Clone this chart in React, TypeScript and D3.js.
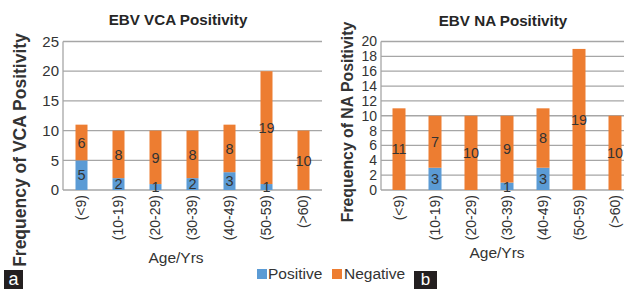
import React from 'react';
import * as d3 from 'd3';

const ageGroups = ['(<9)', '(10-19)', '(20-29)', '(30-39)', '(40-49)', '(50-59)', '(>60)'];
const vcaPositive = [5, 2, 1, 2, 3, 1, 0];
const vcaNegative = [6, 8, 9, 8, 8, 19, 10];
const naPositive = [0, 3, 0, 1, 3, 0, 0];
const naNegative = [11, 7, 10, 9, 8, 19, 10];
const vcaTicks = [0, 5, 10, 15, 20, 25];
const naTicks = [0, 2, 4, 6, 8, 10, 12, 14, 16, 18, 20];

const BLUE = '#5b9bd5';
const ORANGE = '#ed7d31';
const GRID = '#a6a6a6';
const FONT = 'Liberation Sans, Arial, sans-serif';

type PanelProps = {
  title: string;
  yTitle: string;
  pos: number[];
  neg: number[];
  ticks: number[];
  left: number;
  right: number;
  barW: number;
  tickSize: number;
  titleX: number;
  titleY: number;
  yTitleX: number;
  yTitleY: number;
  yTitleSize: number;
  xTitleX: number;
  xTitleY: number;
};

const Panel = (p: PanelProps) => {
  const top = 41.5;
  const bottom = 190;
  const x = d3.scaleBand<string>().domain(ageGroups).range([p.left, p.right]);
  const y = d3
    .scaleLinear()
    .domain([0, d3.max(p.ticks) as number])
    .range([bottom, top]);

  return (
    <g fontFamily={FONT}>
      {/* gridlines + y ticks */}
      {p.ticks.map((t) => (
        <g key={t}>
          <line x1={p.left} x2={p.right} y1={y(t)} y2={y(t)} stroke={GRID} strokeWidth={1.3} />
          <text
            x={p.left - 4}
            y={y(t)}
            dy="0.35em"
            textAnchor="end"
            fontSize={p.tickSize}
            fill="#333"
          >
            {t}
          </text>
        </g>
      ))}
      <line x1={p.left} x2={p.left} y1={top} y2={bottom} stroke={GRID} strokeWidth={1.3} />

      {/* stacked bars */}
      {ageGroups.map((g, i) => {
        const cx = (x(g) as number) + x.bandwidth() / 2;
        const pv = p.pos[i];
        const nv = p.neg[i];
        return (
          <g key={g}>
            <rect x={cx - p.barW / 2} y={y(pv)} width={p.barW} height={y(0) - y(pv)} fill={BLUE} />
            <rect
              x={cx - p.barW / 2}
              y={y(pv + nv)}
              width={p.barW}
              height={y(pv) - y(pv + nv)}
              fill={ORANGE}
            />
            {pv > 0 && (
              <text x={cx} y={y(pv / 2)} dy="0.36em" textAnchor="middle" fontSize={14.5} fill="#333">
                {pv}
              </text>
            )}
            {nv > 0 && (
              <text x={cx} y={y(pv + nv / 2)} dy="0.36em" textAnchor="middle" fontSize={14.5} fill="#333">
                {nv}
              </text>
            )}
            <text
              transform={`translate(${cx},${bottom + 5}) rotate(-90)`}
              dy="0.35em"
              textAnchor="end"
              fontSize={14}
              fill="#333"
            >
              {g}
            </text>
          </g>
        );
      })}

      <text x={p.titleX} y={p.titleY} textAnchor="middle" fontSize={15.2} fontWeight="bold" fill="#262626">
        {p.title}
      </text>
      <text
        transform={`translate(${p.yTitleX},${p.yTitleY}) rotate(-90)`}
        dy="0.35em"
        textAnchor="middle"
        fontSize={p.yTitleSize}
        fontWeight="bold"
        fill="#333"
      >
        {p.yTitle}
      </text>
      <text x={p.xTitleX} y={p.xTitleY} textAnchor="middle" fontSize={15.5} fill="#333">
        Age/Yrs
      </text>
    </g>
  );
};

const App = () => {
  return (
    <svg
      width={624}
      height={289}
      style={{ position: 'absolute', left: 0, top: 0, background: '#fff' }}
    >
      <Panel
        title="EBV VCA Positivity"
        yTitle="Frequency of VCA Positivity"
        pos={vcaPositive}
        neg={vcaNegative}
        ticks={vcaTicks}
        left={63}
        right={322}
        barW={12}
        tickSize={15}
        titleX={178}
        titleY={25}
        yTitleX={20}
        yTitleY={150}
        yTitleSize={17.5}
        xTitleX={176}
        xTitleY={263}
      />
      <Panel
        title="EBV NA Positivity"
        yTitle="Frequency of NA Positivity"
        pos={naPositive}
        neg={naNegative}
        ticks={naTicks}
        left={381}
        right={633}
        barW={13}
        tickSize={14}
        titleX={503}
        titleY={26}
        yTitleX={347}
        yTitleY={122}
        yTitleSize={15.8}
        xTitleX={497}
        xTitleY={258}
      />

      {/* legend */}
      <g fontFamily={FONT} fontSize={15.5} fill="#333">
        <rect x={257} y={269} width={10} height={10} fill={BLUE} />
        <text x={268} y={279}>Positive</text>
        <rect x={332} y={269} width={10} height={10} fill={ORANGE} />
        <text x={344} y={279}>Negative</text>
      </g>

      {/* panel letters */}
      <g fontFamily={FONT}>
        <rect x={4} y={270} width={19} height={19} fill="#231f20" />
        <text x={13.5} y={285} textAnchor="middle" fontSize={18} fill="#fff">
          a
        </text>
        <rect x={414} y={271} width={23} height={18} fill="#231f20" />
        <text x={425.5} y={285} textAnchor="middle" fontSize={17} fill="#fff">
          b
        </text>
      </g>
    </svg>
  );
};

export default App;
